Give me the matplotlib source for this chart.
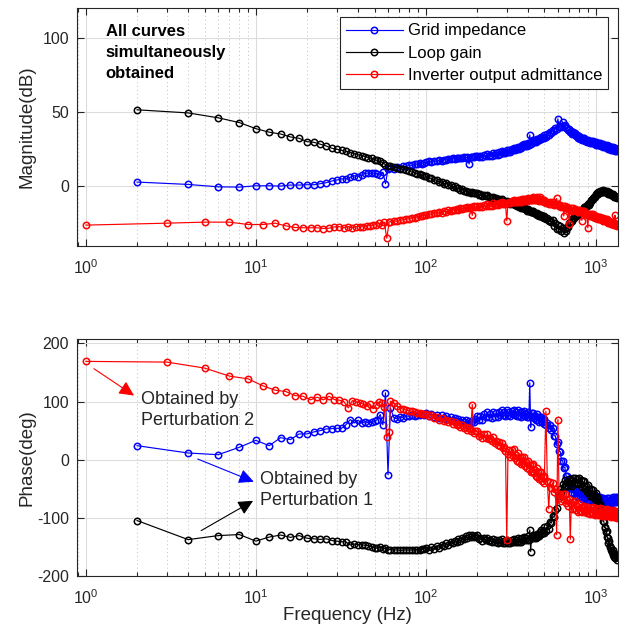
import matplotlib.pyplot as plt
import numpy as np

plt.rcParams['font.family'] = ['Liberation Sans', 'DejaVu Sans']
plt.rcParams['axes.unicode_minus'] = False

# measurement frequencies (Hz)
f_even = np.arange(2, 61, 2)          # grid impedance / loop gain, low band
f_odd = np.arange(1, 62, 2)           # inverter admittance, low band
f_a = np.arange(62, 99, 3)
f_b = np.arange(100, 197, 4)
f_c = np.arange(200, 496, 5)
f_d = np.arange(500, 1341, 10)

# ---------------- magnitude (dB) ----------------
zg_mag_low = [2.9, 1.3, -0.3, -0.5, 0.4, 0.4, 0.2, 0.9, 0.9, 1.1, 1.1, 1.8, 2.5, 3.6, 4.3,
              5.1, 5.0, 6.1, 7.2, 6.6, 7.6, 8.8, 8.9, 8.8, 9.0, 8.5, 7.6, 9.5, 1.8, 11.5]
zg_mag_a = [12.2, 12.0, 12.9, 12.6, 13.4, 13.6, 14.3, 14.2, 14.9, 15.0, 15.5, 15.4, 16.0]
zg_mag_b = [16.2, 16.8, 16.4, 17.1, 17.0, 17.6, 17.4, 18.0, 17.8, 18.4, 18.2, 18.8, 18.4,
            19.0, 18.8, 19.4, 19.0, 19.6, 19.2, 19.8, 15.1, 19.5, 20.0, 19.6, 20.2]
zg_mag_c = [20.8, 19.5, 20.6, 19.6, 21.2, 20.4, 21.8, 20.5, 21.4, 20.6,
            22.3, 21.0, 22.2, 21.2, 22.9, 22.0, 23.5, 22.2, 23.2, 22.4,
            24.2, 23.0, 24.2, 23.3, 25.0, 24.3, 25.8, 24.6, 25.6, 24.9,
            26.7, 25.5, 26.7, 25.8, 27.6, 26.9, 28.4, 27.2, 28.3, 27.5,
            29.4, 28.2, 34.7, 28.5, 30.3, 29.6, 31.1, 29.9, 31.0, 30.2,
            32.1, 30.8, 32.1, 31.1, 32.8, 32.1, 33.6, 32.3, 33.4, 32.6]
zg_mag_d = [34.4, 33.5, 35.1, 34.6, 36.7, 36.3, 38.3, 37.6, 39.1, 38.8,
            45.5, 39.8, 41.0, 40.1, 43.6, 41.0, 41.6, 39.4, 39.6, 37.9,
            38.8, 36.8, 37.3, 35.6, 36.6, 35.2, 36.0, 34.0, 34.3, 32.8,
            33.9, 32.2, 32.9, 31.5, 32.7, 31.5, 32.6, 30.8, 31.4, 30.1,
            31.5, 29.8, 30.7, 29.3, 30.6, 29.5, 30.6, 28.9, 29.5, 28.4,
            29.8, 28.2, 29.0, 27.7, 29.0, 27.9, 29.0, 27.4, 28.0, 26.9,
            28.3, 26.7, 27.5, 26.2, 27.5, 26.4, 27.6, 25.9, 26.6, 25.4,
            26.9, 25.3, 26.2, 24.8, 26.2, 25.1, 26.3, 24.7, 25.3, 24.2,
            25.7, 24.1, 25.0, 23.7, 25.1]

loop_mag_low = [51.6, 49.5, 46.2, 43.0, 38.9, 36.5, 35.3, 33.3, 32.4, 30.1, 29.7, 28.4, 27.2,
                25.7, 25.0, 24.3, 23.6, 22.8, 22.1, 21.4, 20.7, 20.1, 19.4, 18.8, 18.1, 17.5,
                16.8, 16.0, 14.5, 13.8]
loop_mag_a = [13.6, 13.0, 12.5, 12.0, 11.4, 10.9, 10.2, 9.7, 9.2, 8.6, 8.1, 7.6, 7.0]
loop_mag_b = [6.9, 5.4, 5.5, 4.1, 4.3, 2.9, 3.1, 1.8, 2.0, 0.7, 1.0, -0.3, 0.0, -1.3, -1.0,
              -2.3, -2.0, -3.3, -2.9, -4.1, -3.6, -4.6, -3.9, -4.8, -4.2]
loop_mag_c = [-4.2, -5.6, -5.1, -6.2, -5.5, -6.5, -5.9, -7.2, -7.0, -8.0,
              -7.1, -8.5, -8.1, -9.2, -8.4, -9.4, -8.8, -10.1, -9.8, -10.8,
              -9.8, -11.2, -10.8, -11.9, -11.1, -12.1, -11.4, -12.7, -12.5, -13.5,
              -12.5, -13.9, -13.5, -14.6, -13.8, -14.8, -14.2, -15.5, -15.3, -16.3,
              -15.4, -16.8, -16.3, -17.4, -16.6, -17.6, -16.9, -18.2, -17.9, -18.9,
              -17.9, -19.3, -18.8, -19.9, -19.1, -20.1, -19.4, -20.6, -20.2, -21.0]
loop_mag_d = [-19.9, -21.7, -21.6, -23.0, -22.6, -24.0, -22.6, -26.7, -24.8, -28.4,
              -25.8, -28.9, -26.7, -30.1, -28.3, -31.1, -28.5, -30.2, -27.5, -27.7,
              -24.9, -25.0, -23.3, -23.3, -21.6, -21.5, -19.9, -20.3, -19.2, -19.3,
              -17.6, -18.1, -16.8, -17.0, -15.4, -15.5, -14.0, -14.4, -13.3, -13.5,
              -11.7, -12.3, -11.0, -11.2, -9.5, -9.5, -7.9, -8.2, -7.0, -7.1,
              -5.3, -5.9, -4.8, -5.2, -3.9, -4.3, -3.2, -4.0, -3.3, -3.9,
              -2.6, -3.7, -3.0, -3.9, -3.0, -3.8, -3.1, -4.3, -4.0, -4.9,
              -3.9, -5.2, -4.8, -5.8, -5.1, -6.0, -5.4, -6.6, -6.3, -7.2,
              -6.2, -7.4, -6.9, -7.8, -7.0]

inv_mag_low = [-26.1, -24.8, -24.1, -24.1, -25.7, -25.7, -24.8, -26.6, -27.7, -27.9, -27.9,
               -27.9, -28.4, -28.2, -27.3, -27.1, -27.9, -27.1, -27.9, -27.1, -27.1, -27.3,
               -26.4, -26.6, -26.2, -25.7, -25.0, -26.1, -24.0, -34.9, -23.9]
inv_mag_a = [-23.8, -23.2, -23.6, -22.8, -22.5, -22.0, -21.8, -21.2, -21.0, -20.5, -20.3,
             -19.8, -19.6]
inv_mag_b = [-19.3, -18.4, -18.8, -17.8, -18.2, -17.2, -17.7, -16.7, -17.1, -16.2, -16.6,
             -15.7, -16.0, -15.3, -15.6, -14.9, -15.2, -14.5, -14.8, -14.1, -14.4, -13.8,
             -19.6, -13.5, -13.9]
inv_mag_c = [-12.9, -14.2, -13.1, -14.1, -12.5, -13.3, -11.9, -13.2, -12.3, -13.1,
             -11.4, -12.8, -11.6, -12.7, -11.1, -12.0, -10.5, -11.9, -11.0, -11.8,
             -23.2, -11.5, -10.4, -11.5, -9.9, -10.8, -9.3, -10.7, -9.8, -10.7,
             -9.0, -10.4, -9.3, -10.4, -8.8, -9.7, -8.3, -9.7, -8.8, -9.7,
             -8.0, -9.4, -8.4, -9.5, -8.0, -8.9, -7.0, -9.0, -8.1, -9.1,
             -7.4, -9.1, -8.2, -9.6, -7.0, -9.4, -8.3, -10.0, -9.3, -10.5]
inv_mag_d = [-9.2, -11.0, -10.2, -11.7, -10.4, -11.7, -10.7, -12.4, -11.9, -8.1,
             -11.8, -13.5, -12.8, -14.2, -12.9, -20.0, -13.1, -14.8, -14.2, -15.5,
             -25.5, -15.8, -14.9, -16.3, -14.9, -16.1, -15.0, -16.6, -16.0, -17.1,
             -15.7, -17.4, -16.6, -23.0, -16.7, -17.9, -16.8, -18.5, -17.9, -19.1,
             -28.0, -19.4, -18.6, -20.0, -18.7, -19.9, -18.8, -20.5, -19.9, -21.1,
             -19.7, -21.4, -20.5, -21.9, -20.6, -21.8, -20.6, -22.3, -21.7, -22.8,
             -21.4, -23.1, -22.2, -23.6, -22.3, -23.5, -22.3, -24.0, -23.4, -24.5,
             -23.1, -24.8, -23.9, -25.3, -23.9, -25.1, -23.9, -25.6, -24.9, -26.1,
             -19.4, -26.3, -25.4, -26.8, -25.4]

# ---------------- phase (deg) ----------------
zg_ph_low = [24.1, 11.5, 8.6, 21.3, 33.3, 24.1, 37.9, 34.5, 44.3, 44.3, 47.8, 50.0, 52.9,
             53.5, 54.0, 54.0, 60.3, 69.0, 63.2, 67.8, 63.0, 65.5, 63.5, 64.0, 66.0, 69.0,
             77.6, 60.0, 115.0, -25.9]
zg_ph_a = [89.0, 72.0, 70.5, 73.0, 72.5, 75.0, 74.7, 76.0, 75.5, 77.0, 76.5, 78.0, 77.5]
zg_ph_b = [80.0, 75.0, 79.0, 74.0, 77.5, 72.5, 76.0, 71.5, 75.0, 70.0, 73.5, 68.5, 72.0,
           67.0, 70.5, 65.5, 69.0, 64.0, 67.5, 63.0, 66.5, 62.5, 67.0, 64.0, 70.0]
zg_ph_c = [75.3, 67.6, 74.8, 68.4, 78.1, 72.9, 81.4, 72.9, 78.2, 72.5,
           82.4, 73.9, 80.3, 73.4, 82.6, 76.9, 84.9, 76.2, 81.2, 75.5,
           85.3, 76.3, 82.3, 75.0, 83.9, 78.0, 85.9, 76.7, 81.2, 75.1,
           84.6, 75.5, 81.3, 73.9, 82.6, 76.4, 83.9, 74.7, 79.2, 73.0,
           82.4, 72.9, 132.2, 55.7, 80.1, 73.6, 80.9, 71.4, 75.7, 69.0,
           77.8, 68.1, 73.3, 65.4, 73.6, 66.9, 73.9, 64.2, 68.2, 61.7]
zg_ph_d = [70.8, 59.8, 63.8, 53.9, 60.1, 50.4, 54.4, 40.9, 41.2, 27.7,
           29.8, 14.3, 13.8, -1.9, -1.4, -13.9, -12.6, -27.6, -28.8, -39.8,
           -35.2, -48.2, -46.2, -56.4, -50.4, -57.9, -51.6, -61.6, -57.8, -64.3,
           -55.2, -64.7, -59.2, -66.9, -58.4, -64.9, -57.6, -66.9, -62.4, -68.7,
           -59.4, -68.7, -63.0, -70.5, -61.8, -68.1, -60.6, -69.9, -65.4, -71.7,
           -62.4, -71.7, -66.0, -73.5, -64.8, -71.1, -63.6, -72.9, -68.4, -74.7,
           -65.4, -74.7, -69.0, -76.5, -67.8, -74.1, -66.6, -75.6, -70.8, -76.6,
           -66.7, -75.4, -69.2, -76.1, -66.9, -72.6, -64.6, -73.1, -67.8, -73.5,
           -63.7, -72.2, -65.7, -72.6, -63.4]

loop_ph_low = [-104.6, -137.4, -130.5, -128.7, -140.0, -133.0, -129.5, -133.5, -130.5, -135.0,
               -136.0, -137.0, -136.0, -139.0, -140.0, -141.0, -141.5, -146.6, -145.0, -146.0,
               -146.5, -147.0, -148.0, -149.5, -151.0, -152.0, -150.0, -153.0, -152.0, -155.0]
loop_ph_a = [-154.5, -155.5, -155.0, -156.0, -155.5, -155.0, -155.5, -155.0, -155.0, -154.5,
             -154.5, -154.0, -153.5]
loop_ph_b = [-151.0, -154.5, -150.0, -153.0, -148.0, -151.0, -146.0, -149.0, -144.0, -146.5,
             -141.0, -144.0, -139.0, -142.0, -137.0, -139.5, -134.5, -137.0, -132.0, -135.0,
             -130.0, -133.5, -129.0, -133.5, -130.5]
loop_ph_c = [-130.3, -137.1, -133.8, -139.4, -134.1, -138.6, -133.9, -140.4, -137.7, -142.0,
             -135.8, -142.1, -138.3, -143.4, -137.6, -141.9, -136.9, -143.1, -140.0, -144.0,
             -137.6, -143.5, -139.3, -143.9, -137.6, -141.4, -135.9, -141.7, -138.2, -142.0,
             -135.3, -141.1, -136.8, -141.1, -134.6, -138.1, -132.4, -138.2, -134.7, -138.5,
             -131.8, -137.3, -120.7, -158.0, -131.1, -134.9, -129.4, -134.9, -131.2, -134.7,
             -127.8, -132.8, -127.8, -131.6, -124.6, -127.6, -121.4, -126.4, -122.2, -125.2]
loop_ph_d = [-115.2, -122.2, -114.2, -118.4, -106.4, -108.9, -97.6, -99.1, -86.8, -82.8,
             -61.6, -66.1, -50.6, -56.7, -41.2, -47.2, -34.8, -45.8, -38.4, -45.9,
             -32.6, -44.1, -35.6, -44.7, -32.2, -39.7, -31.0, -40.6, -33.9, -42.1,
             -32.0, -42.6, -35.6, -46.7, -36.2, -45.7, -36.8, -50.3, -45.4, -54.9,
             -43.6, -57.1, -50.6, -61.7, -51.2, -60.7, -51.8, -64.8, -59.4, -68.4,
             -56.6, -70.6, -64.6, -76.7, -67.2, -78.7, -75.4, -85.9, -87.2, -96.2,
             -94.5, -105.8, -106.8, -116.6, -115.6, -124.1, -123.4, -133.4, -134.2, -142.5,
             -140.4, -149.6, -148.8, -156.1, -152.6, -158.6, -155.4, -163.1, -161.7, -166.9,
             -161.8, -169.0, -166.3, -172.1, -167.1]

inv_ph_low = [169.0, 167.8, 157.5, 143.7, 139.0, 127.0, 119.5, 117.2, 110.3, 109.0, 102.9,
              107.4, 102.9, 109.0, 103.4, 102.3, 100.0, 89.0, 101.5, 99.5, 98.0, 95.4, 91.9,
              95.0, 87.4, 94.0, 99.0, 97.7, 90.0, 39.0, 47.0]
inv_ph_a = [100.5, 97.0, 92.0, 88.0, 87.0, 85.0, 84.0, 83.0, 82.5, 80.0, 80.5, 79.0, 78.0]
inv_ph_b = [78.5, 74.5, 76.0, 71.5, 74.0, 69.0, 71.5, 66.5, 69.0, 64.0, 66.5, 61.5, 64.5,
            59.0, 62.0, 56.5, 59.5, 54.0, 57.0, 51.0, 54.0, 48.5, 94.8, 45.5, 49.0]
inv_ph_c = [49.5, 40.9, 44.8, 37.7, 44.1, 38.0, 43.4, 34.8, 37.7, 31.6,
            38.5, 29.3, 32.5, 24.8, 30.6, 23.9, 28.6, 19.4, 21.7, 14.9,
            -138.0, 9.6, 17.3, 5.2, 17.4, 7.2, 17.6, 2.8, 8.7, -1.6,
            11.5, -3.3, 4.4, -7.7, 4.5, -5.8, 4.6, -10.1, -4.2, -14.5,
            -1.4, -16.2, -8.5, -20.5, -8.3, -18.6, -8.2, -23.0, -17.1, -27.4,
            -14.2, -29.0, -21.3, -33.4, -21.2, -31.4, -21.0, -35.8, -29.9, -40.2]
inv_ph_d = [-27.3, 83.3, -36.0, -84.5, -37.5, -48.6, -39.4, -55.4, -50.7, -129.0,
            69.0, -65.5, -58.2, -70.7, -58.9, -69.6, -59.6, -74.9, -69.4, -80.2,
            -67.5, -137.0, -73.7, -85.4, -72.7, -82.6, -71.8, -86.1, -79.8, -89.6,
            -76.1, -88.6, -81.9, -90.7, -80.6, -88.0, -79.2, -90.1, -84.9, -92.2,
            -81.4, -92.1, -85.3, -93.9, -83.6, -90.8, -81.9, -92.6, -87.2, -94.4,
            -83.4, -94.1, -87.3, -95.9, -85.6, -92.8, -83.9, -94.6, -89.2, -96.4,
            -85.4, -96.0, -89.1, -97.6, -87.2, -94.3, -85.3, -95.9, -90.4, -97.5,
            -86.4, -97.0, -90.2, -98.7, -88.4, -95.5, -86.6, -97.2, -91.7, -98.9,
            -87.8, -98.5, -91.6, -100.2, -89.8]

labels = ['Grid impedance', 'Loop gain', 'Inverter output admittance']
colors = ['#0000ff', '#000000', '#ff0000']

f_gl = np.concatenate([f_even, f_a, f_b, f_c, f_d])
f_inv = np.concatenate([f_odd, f_a, f_b, f_c, f_d])
mag = [zg_mag_low + zg_mag_a + zg_mag_b + zg_mag_c + zg_mag_d,
       loop_mag_low + loop_mag_a + loop_mag_b + loop_mag_c + loop_mag_d,
       inv_mag_low + inv_mag_a + inv_mag_b + inv_mag_c + inv_mag_d]
ph = [zg_ph_low + zg_ph_a + zg_ph_b + zg_ph_c + zg_ph_d,
      loop_ph_low + loop_ph_a + loop_ph_b + loop_ph_c + loop_ph_d,
      inv_ph_low + inv_ph_a + inv_ph_b + inv_ph_c + inv_ph_d]
freqs = [f_gl, f_gl, f_inv]

fig = plt.figure(figsize=(6.3, 6.33), dpi=100)
ax1 = fig.add_axes([0.1227, 0.6118, 0.8578, 0.3751])
ax2 = fig.add_axes([0.1227, 0.0900, 0.8578, 0.3740])

line_kw = dict(marker='o', markersize=4.6, mfc='none', mew=1.1, lw=0.85)
for f, m, p, c, lab in zip(freqs, mag, ph, colors, labels):
    ax1.plot(f, m, color=c, label=lab, **line_kw)
    ax2.plot(f, p, color=c, **line_kw)

for ax in (ax1, ax2):
    ax.set_xscale('log')
    ax.set_xlim(0.89, 1350)
    ax.set_axisbelow(True)
    ax.grid(True, which='major', color='#dcdcdc', lw=0.8, ls='-')
    ax.grid(True, which='minor', axis='x', color='#c8c8c8', lw=0.7, ls=(0, (1.2, 2.8)))
    ax.tick_params(which='both', direction='in', top=True, right=True,
                   colors='#262626', labelsize=11.5, width=0.8)
    ax.tick_params(which='major', length=5)
    ax.tick_params(which='minor', length=3)
    ax.tick_params(axis='y', pad=6)
    ax.tick_params(axis='x', pad=9)
    for s in ax.spines.values():
        s.set_color('#262626')
        s.set_linewidth(0.8)

ax1.set_ylim(-40, 120)
ax1.set_yticks([0, 50, 100])
ax2.set_ylim(-200, 207)
ax2.set_yticks([-200, -100, 0, 100, 200])

leg = ax1.legend(loc='upper right', bbox_to_anchor=(0.9826, 0.962), borderaxespad=0,
                 fontsize=12, numpoints=1, handlelength=3.4, handletextpad=0.3,
                 borderpad=0.37, labelspacing=0.44, fancybox=False, framealpha=1)
leg.get_frame().set_edgecolor('#262626')
leg.get_frame().set_linewidth(0.8)

ax1.text(0.0526, 0.934, 'All curves\nsimultaneously\nobtained', transform=ax1.transAxes,
         fontsize=12, fontweight='bold', va='top', ha='left', linespacing=1.5)

# annotations in the phase plot
arrow_kw = dict(shrinkA=0, shrinkB=0, lw=0.8, mutation_scale=20)
head = '-|>,head_length=0.45,head_width=0.22'
ax2.annotate('', xy=(1.92, 110.3), xytext=(1.115, 156.4),
             arrowprops=dict(arrowstyle=head, color='#ff0000', **arrow_kw))
ax2.annotate('', xy=(9.73, -37.9), xytext=(4.55, 1.2),
             arrowprops=dict(arrowstyle=head, color='#0000ff', **arrow_kw))
ax2.annotate('', xy=(9.64, -70.7), xytext=(4.77, -121.9),
             arrowprops=dict(arrowstyle=head, color='#000000', **arrow_kw))
ax2.text(2.115, 84.8, 'Obtained by\nPerturbation 2', fontsize=13, va='center', ha='left',
         color='#262626', linespacing=1.32)
ax2.text(10.64, -52.6, 'Obtained by\nPerturbation 1', fontsize=13, va='center', ha='left',
         color='#262626', linespacing=1.32)

fig.text(0.0433, 0.7994, 'Magnitude(dB)', rotation=90, ha='center', va='center',
         fontsize=13.5, color='#262626')
fig.text(0.0433, 0.2770, 'Phase(deg)', rotation=90, ha='center', va='center',
         fontsize=13.5, color='#262626')
fig.text(0.5516, 1 - 616 / 633, 'Frequency (Hz)', ha='center', va='center',
         fontsize=13.5, color='#262626')

fig.savefig('out.png', dpi=100)
